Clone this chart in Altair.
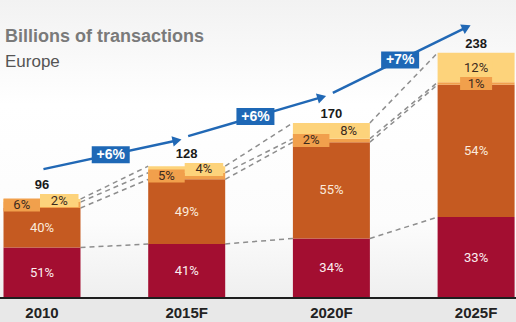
import math
import altair as alt
import pandas as pd

# ---------------- data ----------------
years = ["2010", "2015F", "2020F", "2025F"]
totals = [96, 128, 170, 238]
pct_base = [51, 41, 34, 33]     # dark red
pct_mid = [40, 49, 55, 54]      # orange
pct_small = [6, 5, 2, 1]        # light orange
pct_top = [2, 4, 8, 12]         # yellow
growth = ["+6%", "+6%", "+7%"]
title_text = "Billions of transactions"
subtitle_text = "Europe"

# ---------------- layout / style ----------------
W, H = 516, 298
PX_X, PX_Y, X0 = 144.7, 1.03, 42.0
XD = [-X0 / PX_X, (W - X0) / PX_X]
YD = [0, H / PX_Y]
HALF = 38.5 / PX_X
ux = lambda px: px / PX_X
uy = lambda px: px / PX_Y
plate_mode = ["split", "split", "split", "stack"]
C_BASE, C_MID, C_SMALL, C_TOP = "#a30e31", "#c55a21", "#f1a04c", "#fdd37b"
C_BLUE = "#2168b5"
SANS = "Liberation Sans"
PCT_FONT = "Roboto"

xs = alt.Scale(domain=XD, nice=False, zero=False)
ys = alt.Scale(domain=YD, nice=False, zero=False)

bounds = []
for i, T in enumerate(totals):
    pb, pm, ps = pct_base[i], pct_mid[i], pct_small[i]
    bounds.append([0, pb * T / 100, (pb + pm) * T / 100, (pb + pm + ps) * T / 100, T])

# segments
seg_rows = []
for i in range(len(years)):
    b = bounds[i]
    for k, col in enumerate([C_BASE, C_MID, C_SMALL, C_TOP]):
        seg_rows.append(dict(x=i - HALF, x2=i + HALF, y=b[k], y2=b[k + 1], fill=col))
seg_df = pd.DataFrame(seg_rows)

# big labels
big_rows = []
for i in range(len(years)):
    b = bounds[i]
    big_rows.append(dict(x=i, y=(b[0] + b[1]) / 2, t=f"{pct_base[i]}%", c="#fbeef0"))
    big_rows.append(dict(x=i, y=(b[1] + b[2]) / 2, t=f"{pct_mid[i]}%", c="#fbeadc"))
big_df = pd.DataFrame(big_rows)

# plates for small labels
plate_rows = []
value_rows = []
PH = 6.5
for i in range(len(years)):
    b = bounds[i]
    cs = (b[2] + b[3]) / 2
    ct = (b[3] + b[4]) / 2
    if plate_mode[i] == "split":
        xs_small = (i - HALF, i - ux(2))
        xs_top = (i - ux(2), i + HALF - ux(2))
    else:
        xs_small = (i - ux(16), i + ux(16))
        xs_top = (i - ux(16), i + ux(16))
    plate_rows.append(dict(x=xs_top[0], x2=xs_top[1], y=ct - uy(PH), y2=ct + uy(PH),
                           yc=ct, xc=(xs_top[0] + xs_top[1]) / 2, fill=C_TOP, t=f"{pct_top[i]}%"))
    plate_rows.append(dict(x=xs_small[0], x2=xs_small[1], y=cs - uy(PH), y2=cs + uy(PH),
                           yc=cs, xc=(xs_small[0] + xs_small[1]) / 2, fill=C_SMALL, t=f"{pct_small[i]}%"))
    value_rows.append(dict(x=i, y=max(totals[i], ct + uy(PH)) + uy(5), t=str(totals[i])))
plate_df = pd.DataFrame(plate_rows)
value_df = pd.DataFrame(value_rows)

# dashed connectors
con_rows = []
for i in range(len(years) - 1):
    for k in [1, 2, 3, 4]:
        g = f"{i}-{k}"
        con_rows.append(dict(x=i + HALF, y=bounds[i][k], g=g, o=0))
        con_rows.append(dict(x=i + 1 - HALF, y=bounds[i + 1][k], g=g, o=1))
con_df = pd.DataFrame(con_rows)

# growth arrows
arr_rows, head_rows, box_rows = [], [], []
for i in range(len(growth)):
    xa, ya = i + 0.01, totals[i] + uy(30)
    xb, yb = i + 0.94, totals[i + 1] + uy(26)
    dxp, dyp = (xb - xa) * PX_X, (yb - ya) * PX_Y
    th = math.atan2(dyp, dxp)
    arr_rows.append(dict(x=xa, y=ya, g=i, o=0))
    arr_rows.append(dict(x=xb, y=yb, g=i, o=1))
    head_rows.append(dict(x=xb - ux(1.0 * math.cos(th)), y=yb - uy(1.0 * math.sin(th)),
                          ang=(360 - math.degrees(th)) % 360))
    xm, ym = (xa + xb) / 2, (ya + yb) / 2
    box_rows.append(dict(x=xm - ux(19), x2=xm + ux(19), y=ym - uy(8.5), y2=ym + uy(8.5),
                         xc=xm, yc=ym, t=growth[i]))
arr_df = pd.DataFrame(arr_rows)
head_df = pd.DataFrame(head_rows)
box_df = pd.DataFrame(box_rows)

year_df = pd.DataFrame(dict(x=list(range(len(years))), t=years))
one = pd.DataFrame({"a": [0]})

# ---------------- layers ----------------
bg = alt.Chart(one).mark_rect(
    color=alt.LinearGradient(
        gradient="linear", x1=0, x2=0, y1=0, y2=1,
        stops=[alt.GradientStop(color="#f2f2f2", offset=0),
               alt.GradientStop(color="#ffffff", offset=0.35),
               alt.GradientStop(color="#fcfcfc", offset=0.75),
               alt.GradientStop(color="#efefef", offset=1)])
).encode(x=alt.value(0), x2=alt.value(W), y=alt.value(0), y2=alt.value(H))

connectors = alt.Chart(con_df).mark_line(
    strokeDash=[5, 4], color="#8e8e8e", strokeWidth=1.5
).encode(x=alt.X("x:Q", scale=xs, axis=None), y=alt.Y("y:Q", scale=ys, axis=None),
         detail="g:N", order="o:Q")

bars = alt.Chart(seg_df).mark_rect().encode(
    x=alt.X("x:Q", scale=xs, axis=None), x2="x2",
    y=alt.Y("y:Q", scale=ys, axis=None), y2="y2",
    color=alt.Color("fill:N", scale=None))

big_labels = alt.Chart(big_df).mark_text(font=PCT_FONT, fontSize=13, baseline="middle").encode(
    x=alt.X("x:Q", scale=xs, axis=None), y=alt.Y("y:Q", scale=ys, axis=None),
    text="t:N", color=alt.Color("c:N", scale=None))

plates = alt.Chart(plate_df).mark_rect().encode(
    x=alt.X("x:Q", scale=xs, axis=None), x2="x2",
    y=alt.Y("y:Q", scale=ys, axis=None), y2="y2",
    color=alt.Color("fill:N", scale=None))

plate_text = alt.Chart(plate_df).mark_text(font=PCT_FONT, fontSize=13, baseline="middle",
                                           color="#3b2a1e").encode(
    x=alt.X("xc:Q", scale=xs, axis=None), y=alt.Y("yc:Q", scale=ys, axis=None), text="t:N")

values = alt.Chart(value_df).mark_text(font=SANS, fontSize=13, fontWeight="bold",
                                       baseline="alphabetic", color="#1a1a1a").encode(
    x=alt.X("x:Q", scale=xs, axis=None), y=alt.Y("y:Q", scale=ys, axis=None), text="t:N")

arrows = alt.Chart(arr_df).mark_line(color=C_BLUE, strokeWidth=2.5).encode(
    x=alt.X("x:Q", scale=xs, axis=None), y=alt.Y("y:Q", scale=ys, axis=None),
    detail="g:N", order="o:Q")

heads = alt.Chart(head_df).mark_point(shape="triangle-right", filled=True, opacity=1,
                                      color=C_BLUE, size=110).encode(
    x=alt.X("x:Q", scale=xs, axis=None), y=alt.Y("y:Q", scale=ys, axis=None),
    angle=alt.Angle("ang:Q", scale=None))

boxes = alt.Chart(box_df).mark_rect(color="#1e68b6").encode(
    x=alt.X("x:Q", scale=xs, axis=None), x2="x2",
    y=alt.Y("y:Q", scale=ys, axis=None), y2="y2")

box_text = alt.Chart(box_df).mark_text(font=SANS, fontSize=14, fontWeight="bold",
                                       baseline="middle", color="white").encode(
    x=alt.X("xc:Q", scale=xs, axis=None), y=alt.Y("yc:Q", scale=ys, axis=None), text="t:N")

baseline = alt.Chart(one).mark_rule(color="#1e1e1e", strokeWidth=2).encode(
    x=alt.value(0), x2=alt.value(W), y=alt.value(H))

year_labels = alt.Chart(year_df).mark_text(font=SANS, fontSize=15, fontWeight="bold",
                                           baseline="alphabetic", color="#222222").encode(
    x=alt.X("x:Q", scale=xs, axis=None), y=alt.value(H + 20), text="t:N")

title = alt.Chart(one).mark_text(text=title_text, font=SANS, fontSize=18, fontWeight="bold",
                                 align="left", baseline="alphabetic", color="#7a7a7a").encode(
    x=alt.value(5), y=alt.value(42))
subtitle = alt.Chart(one).mark_text(text=subtitle_text, font=SANS, fontSize=17,
                                    align="left", baseline="alphabetic", color="#555555").encode(
    x=alt.value(5), y=alt.value(67))

chart = alt.layer(
    bg, connectors, bars, big_labels, plates, plate_text, values,
    arrows, heads, boxes, box_text, baseline, year_labels, title, subtitle
).properties(
    width=W, height=H,
    autosize=alt.AutoSizeParams(type="none"),
    padding={"left": 0, "right": 0, "top": 0, "bottom": 24},
    background="#e8e8e8",
).configure_view(stroke=None)

chart.save("out.html", embed_options={"renderer": "svg", "actions": False})
